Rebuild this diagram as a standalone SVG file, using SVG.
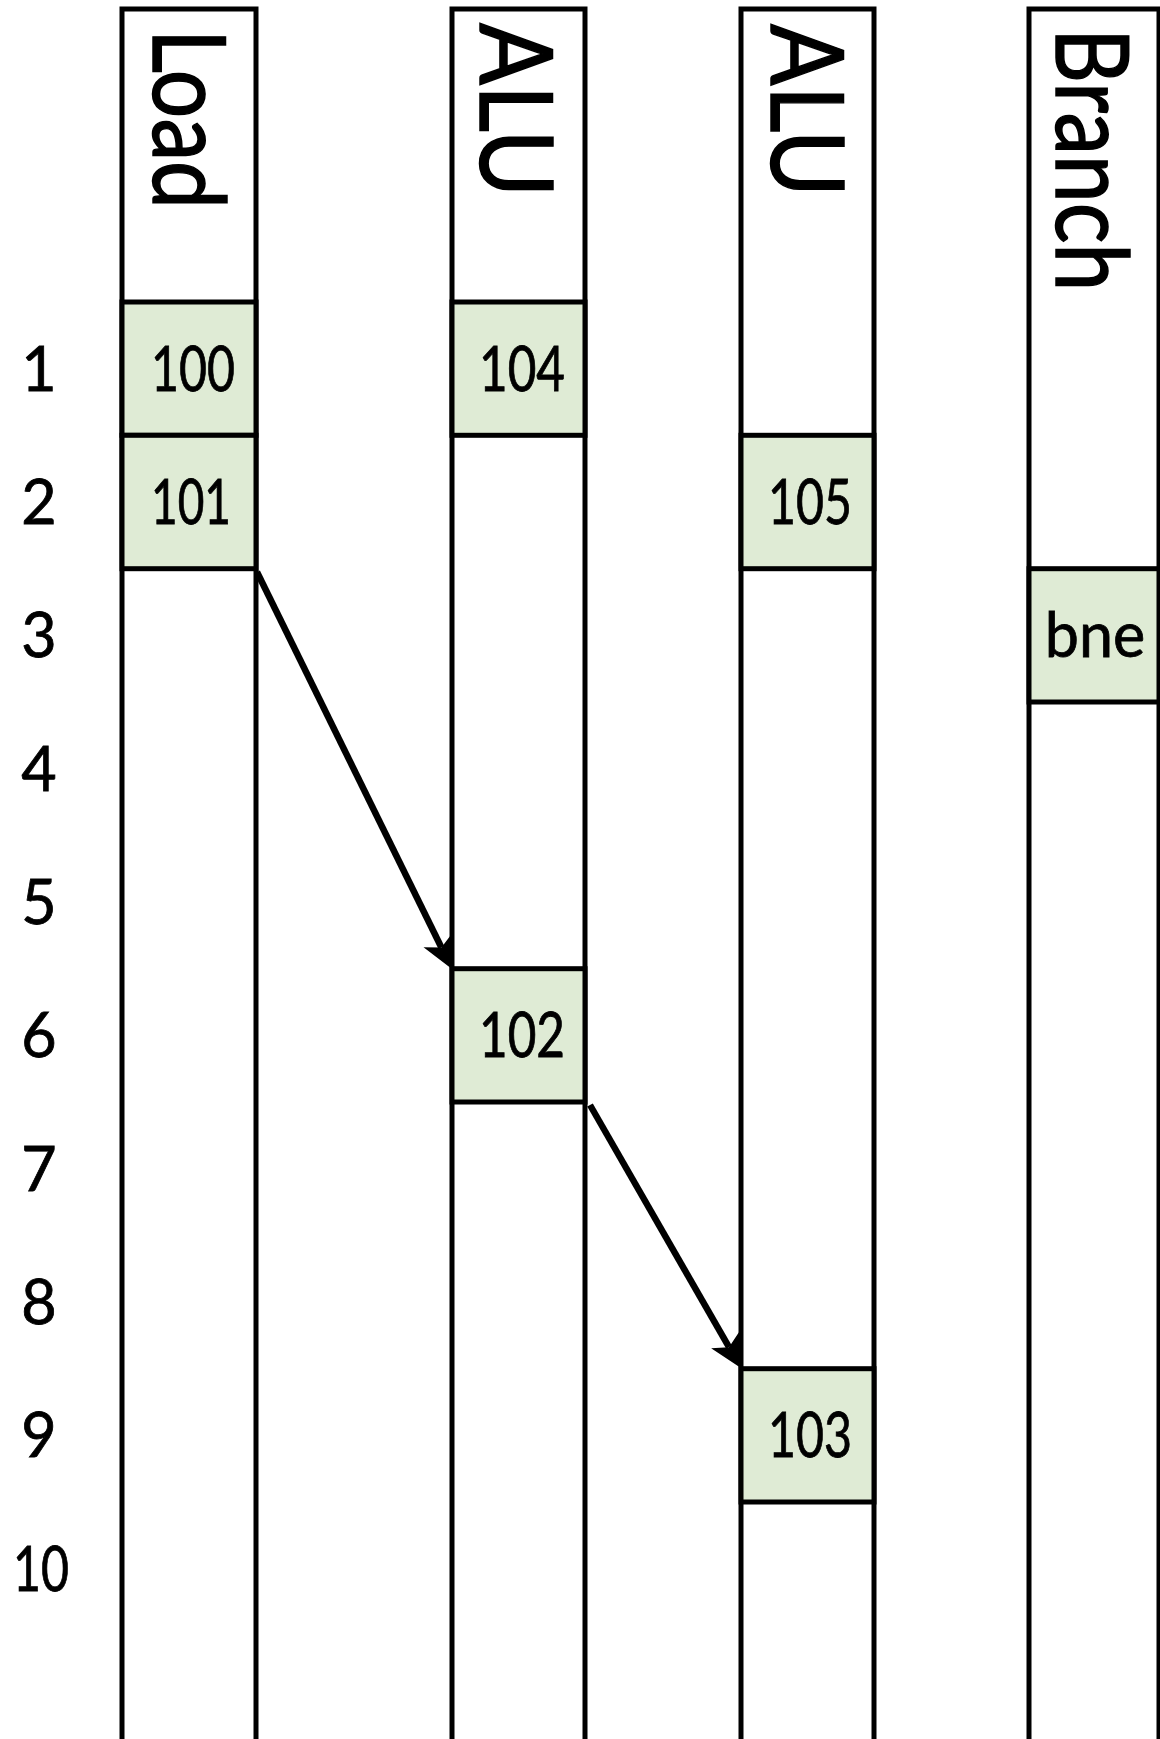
<svg xmlns="http://www.w3.org/2000/svg" width="1160" height="1739" viewBox="0 0 1160 1739">
  <style>
    .col { fill: #ffffff; stroke: #000000; stroke-width: 5; }
    .cell { fill: #dfebd5; stroke: #000000; stroke-width: 5; }
    .hdr { font-family: Lato, "Open Sans", sans-serif; font-size: 100px; fill: #000000; stroke: #000000; stroke-width: 1.5; }
    .lbl { font-family: Lato, "Open Sans", sans-serif; font-size: 61px; fill: #000000; stroke: #000000; stroke-width: 0.8; text-anchor: middle; }
    .row { font-family: Lato, "Open Sans", sans-serif; font-size: 61px; fill: #000000; stroke: #000000; stroke-width: 0.8; text-anchor: middle; }
    .conn { stroke: #000000; stroke-width: 6.5; fill: none; }
  </style>
  <defs>
    <marker id="arrow" markerUnits="userSpaceOnUse" markerWidth="80" markerHeight="80" orient="auto" refX="0" refY="0" overflow="visible">
      <path d="M24,0 L-8,-16 L0,0 L-8,16 Z" fill="#000000"/>
    </marker>
  </defs>
  <rect x="0" y="0" width="1160" height="1739" fill="#ffffff"/>

  <g id="col-load">
    <rect class="col" x="122" y="9" width="134" height="1760"/>
    <text class="hdr" transform="translate(153,29) rotate(90)" textLength="180" lengthAdjust="spacingAndGlyphs">Load</text>
  </g>
  <g id="col-alu1">
    <rect class="col" x="452" y="9" width="133" height="1760"/>
    <text class="hdr" transform="translate(480,23) rotate(90)" textLength="174" lengthAdjust="spacingAndGlyphs">ALU</text>
  </g>
  <g id="col-alu2">
    <rect class="col" x="741" y="9" width="133" height="1760"/>
    <text class="hdr" transform="translate(771,24) rotate(90)" textLength="173" lengthAdjust="spacingAndGlyphs">ALU</text>
  </g>
  <g id="col-branch">
    <rect class="col" x="1029" y="9" width="130" height="1760"/>
    <text class="hdr" transform="translate(1056,28) rotate(90)" textLength="263" lengthAdjust="spacingAndGlyphs">Branch</text>
  </g>

  <g id="row-labels">
    <text class="row" x="39" y="391">1</text>
    <text class="row" x="39" y="524">2</text>
    <text class="row" x="39" y="657">3</text>
    <text class="row" x="39" y="791">4</text>
    <text class="row" x="39" y="924">5</text>
    <text class="row" x="39" y="1057">6</text>
    <text class="row" x="39" y="1191">7</text>
    <text class="row" x="39" y="1324">8</text>
    <text class="row" x="39" y="1457">9</text>
    <text class="row" x="41" y="1591" textLength="56" lengthAdjust="spacingAndGlyphs">10</text>
  </g>

  <g id="cell-100">
    <rect class="cell" x="122" y="302" width="134" height="133.3"/>
    <text class="lbl" x="193" y="391" textLength="84" lengthAdjust="spacingAndGlyphs">100</text>
  </g>
  <g id="cell-101">
    <rect class="cell" x="122" y="435.3" width="134" height="133.4"/>
    <text class="lbl" x="191" y="524" textLength="80" lengthAdjust="spacingAndGlyphs">101</text>
  </g>
  <g id="cell-104">
    <rect class="cell" x="452" y="302" width="133" height="133.3"/>
    <text class="lbl" x="522" y="391" textLength="86" lengthAdjust="spacingAndGlyphs">104</text>
  </g>
  <g id="cell-102">
    <rect class="cell" x="452" y="968.7" width="133" height="133.3"/>
    <text class="lbl" x="522" y="1057" textLength="86" lengthAdjust="spacingAndGlyphs">102</text>
  </g>
  <g id="cell-105">
    <rect class="cell" x="741" y="435.3" width="133" height="133.4"/>
    <text class="lbl" x="810" y="524" textLength="84" lengthAdjust="spacingAndGlyphs">105</text>
  </g>
  <g id="cell-103">
    <rect class="cell" x="741" y="1368.7" width="133" height="133.3"/>
    <text class="lbl" x="810" y="1457" textLength="84" lengthAdjust="spacingAndGlyphs">103</text>
  </g>
  <g id="cell-bne">
    <rect class="cell" x="1029" y="568.7" width="130" height="133.3"/>
    <text class="lbl" x="1095" y="657">bne</text>
  </g>

  <g id="connectors">
    <line class="conn" x1="257" y1="572" x2="441.4" y2="947.5" marker-end="url(#arrow)"/>
    <line class="conn" x1="590" y1="1105" x2="729" y2="1347.2" marker-end="url(#arrow)"/>
  </g>
</svg>
